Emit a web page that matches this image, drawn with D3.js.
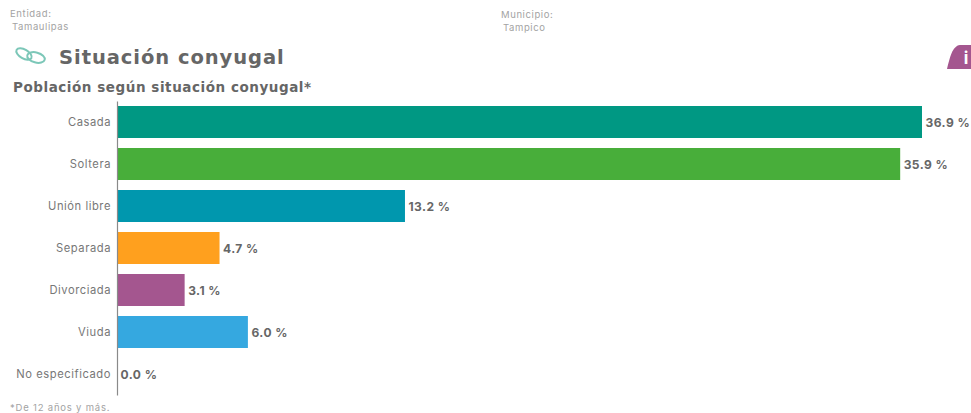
<!DOCTYPE html>
<html><head><meta charset="utf-8">
<script src="https://cdn.jsdelivr.net/npm/d3@7"></script>
<style>
html,body{margin:0;padding:0;background:#fff;overflow:hidden}
svg{display:block}
text{font-family:"Inter","DejaVu Sans",sans-serif}
</style></head><body>
<script>
const categories = ["Casada","Soltera","Unión libre","Separada","Divorciada","Viuda","No especificado"];
const values = [36.9,35.9,13.2,4.7,3.1,6.0,0.0];
const colors = ["#009883","#48AE3A","#0097AE","#FFA01E","#A4568F","#35A8E0","#999999"];
const title = "Situación conyugal";
const subtitle = "Población según situación conyugal*";
const footnote = "*De 12 años y más.";

const svg = d3.select("body").append("svg").attr("width",971).attr("height",413);
const x = d3.scaleLinear().domain([0,36.9]).range([117,922]);
const y = d3.scaleBand().domain(categories).range([101,395]).paddingInner(10/42).paddingOuter(5/42);

function t(px,py,s,size,fill,weight,sp){
  return svg.append("text").attr("x",px).attr("y",py).text(s)
    .attr("font-size",size).attr("fill",fill).attr("font-weight",weight||400)
    .attr("letter-spacing",sp||0);
}
t(10,17,"Entidad:",9.5,"#a3a3a3",400,0.65);
t(12,30,"Tamaulipas",9.5,"#a3a3a3",400,0.6);
t(501,17.5,"Municipio:",9.5,"#a3a3a3",400,0.6);
t(503,30.5,"Tampico",9.5,"#a3a3a3",400,0.6);
t(59,64,title,19.5,"#666666",700,0.95).style("font-family",'"DejaVu Sans",sans-serif');
t(13,92,subtitle,13.5,"#666666",700,0.55).style("font-family",'"DejaVu Sans",sans-serif');
t(10,411,footnote,9.5,"#a3a3a3",400,0.8);

// rings icon
const icon = svg.append("g").attr("fill","none").attr("stroke","#7CC7B8").attr("stroke-width",2);
icon.append("ellipse").attr("cx",24).attr("cy",54).attr("rx",8.5).attr("ry",4.5).attr("transform","rotate(30 24 54)");
icon.append("ellipse").attr("cx",36).attr("cy",57.5).attr("rx",9).attr("ry",5).attr("transform","rotate(15 36 57.5)");

// info tab
svg.append("path").attr("d","M947 69 C950 58 952 46 960 45 L971 45 L971 69 Z").attr("fill","#A4568F");
svg.append("text").attr("x",966).attr("y",64).attr("text-anchor","middle").attr("font-size",17).attr("font-weight",700).attr("fill","#fff").text("i");

// bars
svg.selectAll("rect.bar").data(categories.map((c,i)=>({c,v:values[i],col:colors[i]})).filter(d=>d.v>0))
  .join("rect").attr("class","bar")
  .attr("x",x(0)).attr("y",d=>y(d.c)).attr("width",d=>x(d.v)-x(0)).attr("height",y.bandwidth()).attr("fill",d=>d.col);

// axis
const axis = d3.axisLeft(y).tickSize(0).tickPadding(6);
const g = svg.append("g").attr("transform",`translate(${x(0)},0)`).call(axis);
g.select(".domain").attr("stroke","#8a8a8a").attr("stroke-width",1.2);
g.selectAll("text").attr("font-size",11.2).attr("fill","#777777").attr("letter-spacing",0.55).attr("dy","0.4em").style("font-family",'"Inter",sans-serif');

// value labels
svg.selectAll("text.val").data(categories.map((c,i)=>({c,v:values[i]})))
  .join("text").attr("class","val")
  .attr("x",d=>x(d.v)+3.5).attr("y",d=>y(d.c)+y.bandwidth()/2+4.5)
  .attr("font-size",12).attr("font-weight",700).attr("fill","#666666").attr("letter-spacing",0.45)
  .text(d=>d.v.toFixed(1)+" %");
</script>
</body></html>
